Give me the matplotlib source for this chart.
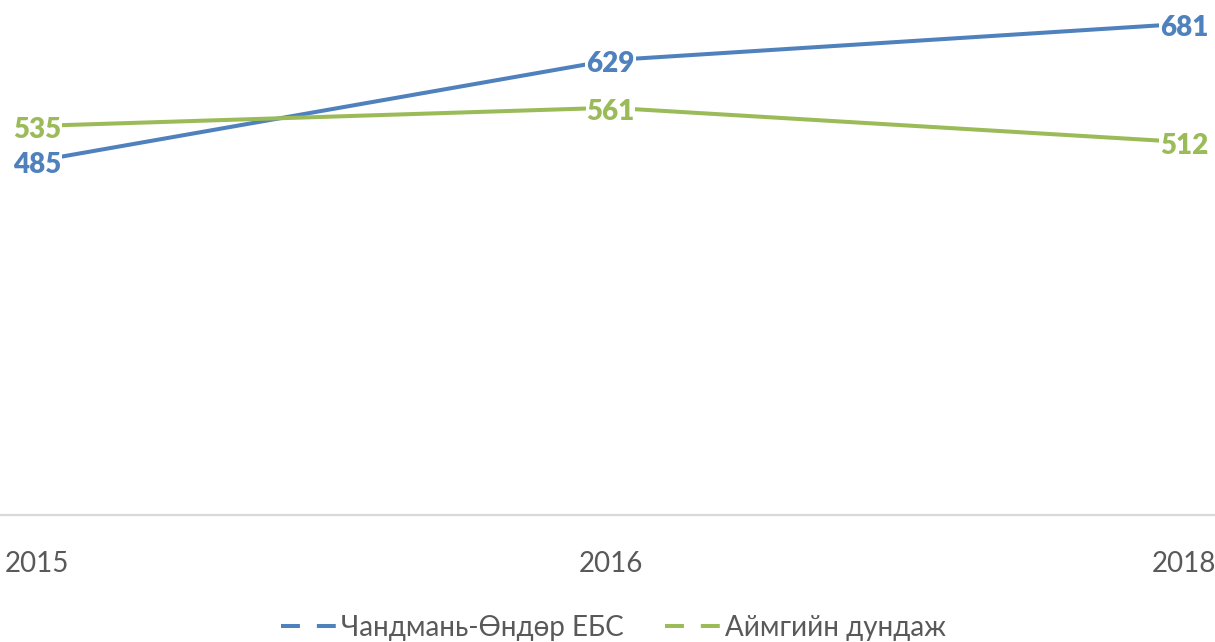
import matplotlib.pyplot as plt
from matplotlib.lines import Line2D

years = ["2015", "2016", "2018"]
school = [485, 629, 681]
aimag = [535, 561, 512]
names = ["Чандмань-Өндөр ЕБС", "Аймгийн дундаж"]

blue = "#4F81BD"
green = "#9BBB59"

plt.rcParams['font.family'] = ['Lato', 'DejaVu Sans']

fig = plt.figure(figsize=(12.15, 6.42), dpi=100)
ax = fig.add_axes([0, 127 / 642, 1, 515 / 642])

x = list(range(len(years)))
ax.plot(x, school, color=blue, lw=2.9, zorder=2, solid_capstyle='butt')
ax.plot(x, aimag, color=green, lw=2.9, zorder=3, solid_capstyle='butt')

# data labels sit on the points, white box hides the line behind them
for vals, col in [(school, blue), (aimag, green)]:
    for xi, v in zip(x, vals):
        ax.annotate(str(v), (xi, v), xytext=(0, -3), textcoords='offset points',
                    color=col, fontsize=20, fontweight='heavy',
                    ha='center', va='center', zorder=5,
                    bbox=dict(facecolor='white', edgecolor='none', pad=0.5))

ax.set_xlim(-0.0645, 2.054)
ax.set_ylim(-21, 715)
ax.set_xticks(x)
ax.set_xticklabels(years, fontsize=20, color="#595959")
ax.set_yticks([])
ax.tick_params(axis='x', length=0, pad=26)
for s in ['top', 'left', 'right']:
    ax.spines[s].set_visible(False)
ax.spines['bottom'].set_color("#D9D9D9")
ax.spines['bottom'].set_linewidth(1.6)

handles = [Line2D([], [], color=blue, lw=2.9, linestyle=(0, (4.7, 4.2))),
           Line2D([], [], color=green, lw=2.9, linestyle=(0, (4.7, 4.2)))]
fig.legend(handles, names, loc='center', bbox_to_anchor=(0.505, 1 - 628 / 642),
           ncol=2, frameon=False, fontsize=20, labelcolor="#595959",
           handlelength=2.05, handletextpad=0.1, columnspacing=1.5)

fig.savefig("out.png", dpi=100)
